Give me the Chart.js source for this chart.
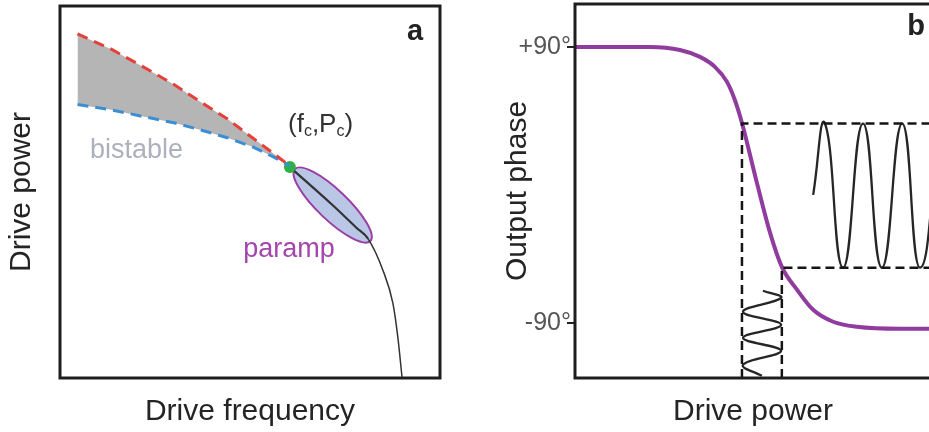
<!DOCTYPE html>
<html>
<head>
<meta charset="utf-8">
<script src="https://cdn.jsdelivr.net/npm/chart.js@4.4.1/dist/chart.umd.min.js"></script>
<style>
html, body { margin: 0; padding: 0; background: #fff; overflow: hidden; width: 929px; height: 432px; }
#panelA { position: absolute; left: 0; top: 0; }
#panelB { position: absolute; left: 496px; top: 0; }
</style>
</head>
<body>
<canvas id="panelA" width="460" height="432"></canvas>
<canvas id="panelB" width="445" height="432"></canvas>
<script>
// panel a - drive frequency vs drive power (arbitrary units, 0-100)
const bistableFreq = [4.6, 13.5, 21.8, 30, 37, 44, 51, 56, 60.5];
const upperBoundary = [92.5, 88.4, 83.7, 78.9, 74.2, 69.7, 64.3, 60.5, 57.0];
const lowerBoundary = [73.5, 72.1, 70.3, 68.6, 66.7, 64.6, 62.0, 59.5, 57.0];
const criticalPoint = [60.5, 56.7];
const responseFreq = [60.5, 71.7, 78.0, 81.1, 85.0, 87.6, 88.9, 90.0];
const responsePower = [56.7, 46.5, 40.4, 37.4, 28.9, 20.1, 11.0, 0.3];
const parampEnds = [[62.4, 55.6], [81.1, 37.4]];

// panel b - output phase (deg) vs drive power (arbitrary units, 0-100)
const phaseTicks = [-90, 90];
const phaseMin = -126, phaseMax = 118;
const sweepPower = [0, 21.1, 29.5, 35.1, 39.3, 42.7, 44.9, 46.9, 51.1, 54.8, 58.1, 62.4, 66.9, 72.5, 79.2, 91.3, 100];
const sweepPhase = [90, 90, 88.0, 83.5, 77.0, 67.2, 55.4, 40.4, 1.3, -31.3, -53.5, -68.5, -81.5, -89.3, -92.6, -93.9, -93.9];
const biasLow = 46.9, biasHigh = 58.1;
const phaseHigh = 40, phaseLow = -54;
const outputWavePower = [66.9, 70.2, 75.3, 80.9, 86.2, 91.9, 96.9, 102.5];
const outputWavePhase = [-6.5, 40, -54, 40, -54, 40, -54, 40];
const inputWavePower = [52.8, 57.9, 47.2, 57.9, 47.2, 57.9, 47.2, 52.5];
const inputWavePhase = [-69.1, -73.7, -82.8, -91.3, -99.8, -108.3, -117.4, -124.6];

const family = '"Liberation Sans", Arial, sans-serif';
const pts = (xs, ys) => xs.map((x, i) => ({x: x, y: ys[i]}));

const frame = {
    id: 'frame',
    afterDatasetsDraw(chart) {
        const {ctx, chartArea: a} = chart;
        ctx.save();
        ctx.lineWidth = 3;
        ctx.strokeStyle = '#1e1e1e';
        ctx.strokeRect(a.left, a.top, a.right - a.left, a.bottom - a.top);
        ctx.restore();
    }
};

function makeNotes(items) {
    return {
        id: 'notes',
        afterDatasetsDraw(chart) {
            const {ctx, scales: {x, y}} = chart;
            ctx.save();
            ctx.textBaseline = 'alphabetic';
            for (const n of items) {
                let px = x.getPixelForValue(n.at[0]);
                const py = y.getPixelForValue(n.at[1]);
                for (const [txt, size, drop] of n.parts) {
                    ctx.font = (n.bold ? 'bold ' : '') + size + 'px ' + family;
                    ctx.fillStyle = n.color;
                    ctx.fillText(txt, px, py + drop);
                    px += ctx.measureText(txt).width;
                }
            }
            ctx.restore();
        }
    };
}

const parampOval = {
    id: 'parampOval',
    beforeDatasetsDraw(chart) {
        const {ctx, scales: {x, y}} = chart;
        const [a, b] = parampEnds.map(([f, p]) => [x.getPixelForValue(f), y.getPixelForValue(p)]);
        const rx = Math.hypot(b[0] - a[0], b[1] - a[1]) / 2 + 3;
        ctx.save();
        ctx.beginPath();
        ctx.ellipse((a[0] + b[0]) / 2, (a[1] + b[1]) / 2, rx, 15, Math.atan2(b[1] - a[1], b[0] - a[0]), 0, Math.PI * 2);
        ctx.fillStyle = '#bac6e5';
        ctx.fill();
        ctx.lineWidth = 2;
        ctx.strokeStyle = '#9b3ea6';
        ctx.stroke();
        ctx.restore();
    }
};

function axisTitle(text, padding) {
    return {display: true, text: text, color: '#242424', font: {size: 30, family: family, lineHeight: 1.2}, padding: padding};
}

// ---- panel a
new Chart(document.getElementById('panelA'), {
    type: 'line',
    data: {
        datasets: [{
            data: pts(bistableFreq, upperBoundary),
            borderColor: '#e5403a',
            borderWidth: 3,
            borderDash: [11, 7],
            pointRadius: 0,
            fill: '+1',
            backgroundColor: '#b5b5b5'
        }, {
            data: pts(bistableFreq, lowerBoundary),
            borderColor: '#3b8ed6',
            borderWidth: 3,
            borderDash: [11, 7],
            pointRadius: 0,
            fill: false
        }, {
            data: [{x: criticalPoint[0], y: criticalPoint[1]}],
            showLine: false,
            pointRadius: 6,
            pointBorderWidth: 0,
            pointBackgroundColor: '#2db047'
        }, {
            data: pts(responseFreq, responsePower),
            borderColor: '#333333',
            borderWidth: 1.5,
            pointRadius: 0,
            cubicInterpolationMode: 'monotone',
            segment: {borderWidth: c => c.p1DataIndex <= 3 ? 2.2 : 1.5},
            fill: false
        }]
    },
    options: {
        responsive: false,
        animation: false,
        layout: {padding: {top: 4, right: 20, left: 0, bottom: 0}},
        plugins: {
            legend: {display: false},
            tooltip: {enabled: false},
            filler: {drawTime: 'beforeDatasetsDraw'}
        },
        scales: {
            x: {
                type: 'linear', min: 0, max: 100,
                ticks: {display: false}, grid: {display: false}, border: {display: false},
                title: axisTitle('Drive frequency', {top: 0, bottom: 2}),
                afterFit(s) { s.height = 54; }
            },
            y: {
                type: 'linear', min: 0, max: 100,
                ticks: {display: false}, grid: {display: false}, border: {display: false},
                title: axisTitle('Drive power', {top: 4, bottom: 0}),
                afterFit(s) { s.width = 60; }
            }
        }
    },
    plugins: [parampOval, frame, makeNotes([
        {at: [7.9, 59.1], color: '#adb1bd', parts: [['bistable', 27, 0]]},
        {at: [48.2, 32.4], color: '#a346ad', parts: [['paramp', 27, 0]]},
        {at: [60.0, 66.0], color: '#333333', parts: [['(f', 26, 0], ['c', 16, 4], [',P', 26, 0], ['c', 16, 4], [')', 26, 0]]},
        {at: [91.3, 90.9], color: '#222222', bold: true, parts: [['a', 29, 0]]}
    ])]
});

// ---- panel b
const dashed = {borderColor: '#151515', borderWidth: 2.5, borderDash: [9, 5], pointRadius: 0, fill: false};
new Chart(document.getElementById('panelB'), {
    type: 'line',
    data: {
        datasets: [Object.assign({
            data: [{x: biasLow, y: phaseMin}, {x: biasLow, y: phaseHigh}, {x: 100, y: phaseHigh}]
        }, dashed), Object.assign({
            data: [{x: biasHigh, y: phaseMin}, {x: biasHigh, y: phaseLow}, {x: 100, y: phaseLow}]
        }, dashed), {
            data: pts(outputWavePower, outputWavePhase),
            borderColor: '#262626',
            borderWidth: 2.3,
            pointRadius: 0,
            tension: 0.5
        }, {
            data: pts(inputWavePower, inputWavePhase),
            borderColor: '#262626',
            borderWidth: 2.3,
            pointRadius: 0,
            tension: 0.4
        }, {
            data: pts(sweepPower, sweepPhase),
            borderColor: '#903c9f',
            borderWidth: 4,
            pointRadius: 0,
            cubicInterpolationMode: 'monotone'
        }]
    },
    options: {
        responsive: false,
        animation: false,
        layout: {padding: {top: 4, right: 10, left: 0, bottom: 0}},
        plugins: {legend: {display: false}, tooltip: {enabled: false}},
        scales: {
            x: {
                type: 'linear', min: 0, max: 100,
                ticks: {display: false}, grid: {display: false}, border: {display: false},
                title: axisTitle('Drive power', {top: 0, bottom: 2}),
                afterFit(s) { s.height = 54; }
            },
            y: {
                type: 'linear', min: phaseMin, max: phaseMax,
                afterBuildTicks(s) { s.ticks = phaseTicks.map(v => ({value: v})); },
                ticks: {
                    color: '#555555',
                    font: {size: 25, family: family},
                    padding: -4,
                    callback: v => (v > 0 ? '+' : '') + v + '°'
                },
                grid: {display: true, drawOnChartArea: false, drawTicks: true, tickLength: 8, color: '#222', lineWidth: 2},
                border: {display: false},
                title: axisTitle('Output phase', {top: 4, bottom: 0}),
                afterFit(s) { s.width = 79; s.paddingTop = 0; s.paddingBottom = 0; }
            }
        }
    },
    plugins: [frame, makeNotes([
        {at: [93.3, 97.8], color: '#222222', bold: true, parts: [['b', 29, 0]]}
    ])]
});
</script>
</body>
</html>
